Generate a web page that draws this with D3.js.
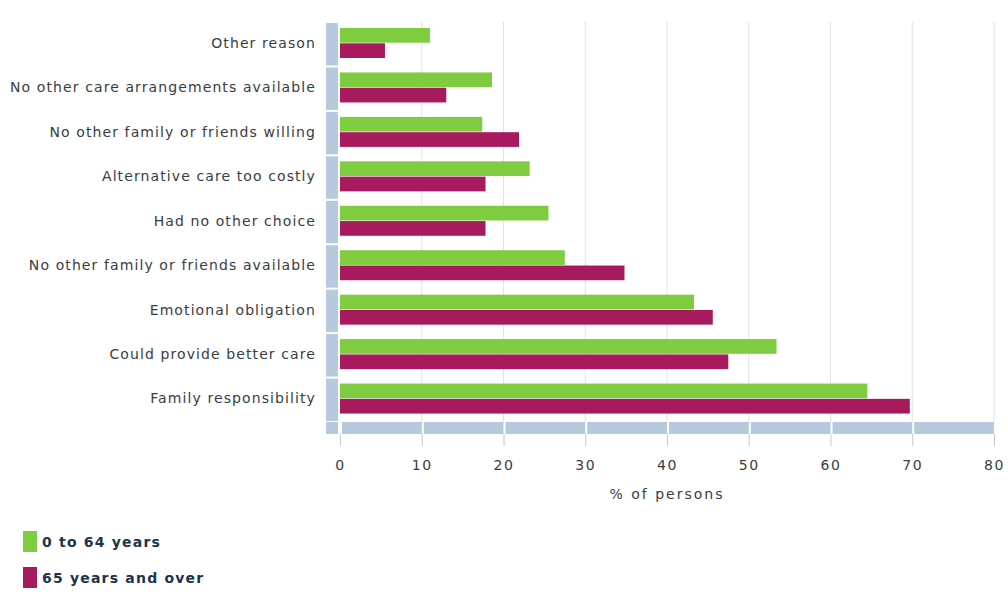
<!DOCTYPE html>
<html>
<head>
<meta charset="utf-8">
<script src="https://cdn.jsdelivr.net/npm/d3@7"></script>
<style>
  body { margin: 0; background: #fff; }
  svg { font-family: "DejaVu Sans", Verdana, sans-serif; }
</style>
</head>
<body>
<div id="plot"></div>
<script>
// categories top to bottom
const categories = [
  "Other reason",
  "No other care arrangements available",
  "No other family or friends willing",
  "Alternative care too costly",
  "Had no other choice",
  "No other family or friends available",
  "Emotional obligation",
  "Could provide better care",
  "Family responsibility"
];
const seriesNames = ["0 to 64 years", "65 years and over"];
const young = [11.0, 18.6, 17.4, 23.2, 25.5, 27.5, 43.3, 53.4, 64.5];
const old = [5.5, 13.0, 21.9, 17.8, 17.8, 34.8, 45.6, 47.5, 69.7];
const xTicks = [0, 10, 20, 30, 40, 50, 60, 70, 80];
const colors = ["#80cc40", "#a81a5e"];
const stripColor = "#b7c9dc";

const width = 1008, height = 592;
const margin = { top: 22, left: 340 };

const svg = d3.select("#plot").append("svg")
  .attr("width", width)
  .attr("height", height);

const x = d3.scaleLinear()
  .domain([0, 80])
  .range([margin.left, 994]);

const y = d3.scaleBand()
  .domain(categories)
  .range([margin.top, 422]);

// two bars per category, a thin gap between them
const inner = d3.scaleBand()
  .domain([0, 1])
  .range([6, 36])
  .paddingInner(0.04);

// gridlines
svg.append("g").selectAll("line")
  .data(xTicks.slice(1))
  .enter().append("line")
  .attr("x1", d => x(d)).attr("x2", d => x(d))
  .attr("y1", margin.top).attr("y2", 422)
  .attr("stroke", "#e3e3e3")
  .attr("stroke-width", 1);

// left category strip
svg.append("g").selectAll("rect")
  .data(categories)
  .enter().append("rect")
  .attr("x", 326)
  .attr("width", 12)
  .attr("y", d => y(d) + 1)
  .attr("height", y.bandwidth() - 2)
  .attr("fill", stripColor);

// bottom axis strip
svg.append("rect")
  .attr("x", 326).attr("width", 12)
  .attr("y", 422).attr("height", 12)
  .attr("fill", stripColor);
svg.append("g").selectAll("rect")
  .data(xTicks.slice(0, -1))
  .enter().append("rect")
  .attr("x", d => x(d) + 2)
  .attr("width", d => x(d + 10) - x(d) - 2)
  .attr("y", 422).attr("height", 12)
  .attr("fill", stripColor);

// bars
const series = [young, old];
series.forEach((vals, si) => {
  svg.append("g").selectAll("rect")
    .data(categories)
    .enter().append("rect")
    .attr("x", x(0))
    .attr("y", d => y(d) + inner(si))
    .attr("width", (d, i) => x(vals[i]) - x(0))
    .attr("height", inner.bandwidth())
    .attr("fill", colors[si]);
});

// category labels
svg.append("g").selectAll("text")
  .data(categories)
  .enter().append("text")
  .attr("x", 316)
  .attr("y", d => y(d) + 21)
  .attr("dy", "0.35em")
  .attr("text-anchor", "end")
  .attr("fill", "#383d42")
  .style("font-size", "14px")
  .style("letter-spacing", "1.1px")
  .text(d => d);

// x axis ticks
const axis = svg.append("g")
  .attr("transform", "translate(0,434)")
  .call(d3.axisBottom(x).tickValues(xTicks).tickSize(12).tickPadding(14));
axis.select(".domain").remove();
axis.selectAll(".tick line").attr("stroke", "#c8c8c8");
axis.selectAll(".tick text")
  .attr("fill", "#383d42")
  .style("font-size", "14px")
  .style("letter-spacing", "1.5px")
  .style("font-family", "\"DejaVu Sans\", Verdana, sans-serif");

svg.append("text")
  .attr("x", (x(0) + x(80)) / 2)
  .attr("y", 499)
  .attr("text-anchor", "middle")
  .attr("fill", "#383d42")
  .style("font-size", "14px")
  .style("letter-spacing", "2px")
  .text("% of persons");

// legend
const legend = svg.append("g");
seriesNames.forEach((name, i) => {
  legend.append("rect")
    .attr("x", 23).attr("y", 531 + i * 36)
    .attr("width", 14).attr("height", 21)
    .attr("fill", colors[i]);
  legend.append("text")
    .attr("x", 42).attr("y", 542 + i * 36)
    .attr("dy", "0.35em")
    .attr("fill", "#1d3349")
    .style("font-size", "14px")
    .style("font-weight", "bold")
    .style("letter-spacing", "1.2px")
    .text(name);
});
</script>
</body>
</html>
